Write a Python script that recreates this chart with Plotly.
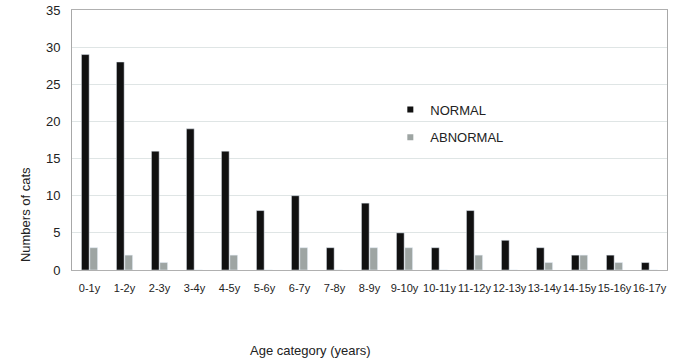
import plotly.graph_objects as go

categories = ["0-1y", "1-2y", "2-3y", "3-4y", "4-5y", "5-6y", "6-7y", "7-8y", "8-9y",
              "9-10y", "10-11y", "11-12y", "12-13y", "13-14y", "14-15y", "15-16y", "16-17y"]
normal = [29, 28, 16, 19, 16, 8, 10, 3, 9, 5, 3, 8, 4, 3, 2, 2, 1]
abnormal = [3, 2, 1, 0, 2, 0, 3, 0, 3, 3, 0, 2, 0, 1, 2, 1, 0]

FONT = "Liberation Sans, Arial, Helvetica, sans-serif"
BLACK = "#111111"
GREY = "#9ea5a3"

fig = go.Figure()
fig.add_trace(go.Bar(x=categories, y=normal, name="NORMAL", marker_color=BLACK,
                     showlegend=False))
fig.add_trace(go.Bar(x=categories, y=abnormal, name="ABNORMAL", marker_color=GREY,
                     showlegend=False))
# legend entries with small square markers
fig.add_trace(go.Scatter(x=[None], y=[None], mode="markers", name="NORMAL",
                         marker=dict(symbol="square", size=6, color=BLACK),
                         legendgroup="a"))
fig.add_trace(go.Scatter(x=[None], y=[None], mode="markers", name="ABNORMAL",
                         marker=dict(symbol="square", size=6, color=GREY),
                         legendgroup="b"))

fig.update_layout(
    width=673, height=361,
    margin=dict(l=72, r=6, t=10, b=91),
    paper_bgcolor="white", plot_bgcolor="white",
    font=dict(family=FONT, size=13, color="#222222"),
    barmode="group", bargap=0.52, bargroupgap=0.08,
    legend=dict(x=0.535, y=0.675, xanchor="left", yanchor="top",
                traceorder="grouped", tracegroupgap=8,
                itemwidth=30, font=dict(size=13, color="#222222"),
                bgcolor="rgba(0,0,0,0)"),
    xaxis=dict(showline=True, linecolor="#b0b0b0", linewidth=1, mirror=True,
               ticks="outside", ticklen=8, tickcolor="rgba(0,0,0,0)",
               tickangle=0, automargin=False,
               tickfont=dict(size=11, color="#222222"), showgrid=False),
    yaxis=dict(range=[0, 35], dtick=5, showline=True, linecolor="#a8a8a8",
               linewidth=1, mirror=True, gridcolor="#dfe5e5", gridwidth=1,
               ticks="outside", ticklen=8, tickcolor="rgba(0,0,0,0)",
               automargin=False,
               tickfont=dict(size=13, color="#222222"), zeroline=False),
    annotations=[
        dict(text="Numbers of cats", xref="paper", yref="paper",
             x=-0.079, y=0.215, textangle=-90, showarrow=False,
             xanchor="center", yanchor="middle", font=dict(size=13, color="#222222")),
        dict(text="Age category (years)", xref="paper", yref="paper",
             x=0.4, y=-0.308, showarrow=False, xanchor="center", yanchor="middle",
             font=dict(size=13, color="#222222")),
    ],
)

# remove the browser's default 8px body margin so the figure fills the window
fig.write_html("out.html", config={"displayModeBar": False},
               post_script="document.body.style.margin='0';")
